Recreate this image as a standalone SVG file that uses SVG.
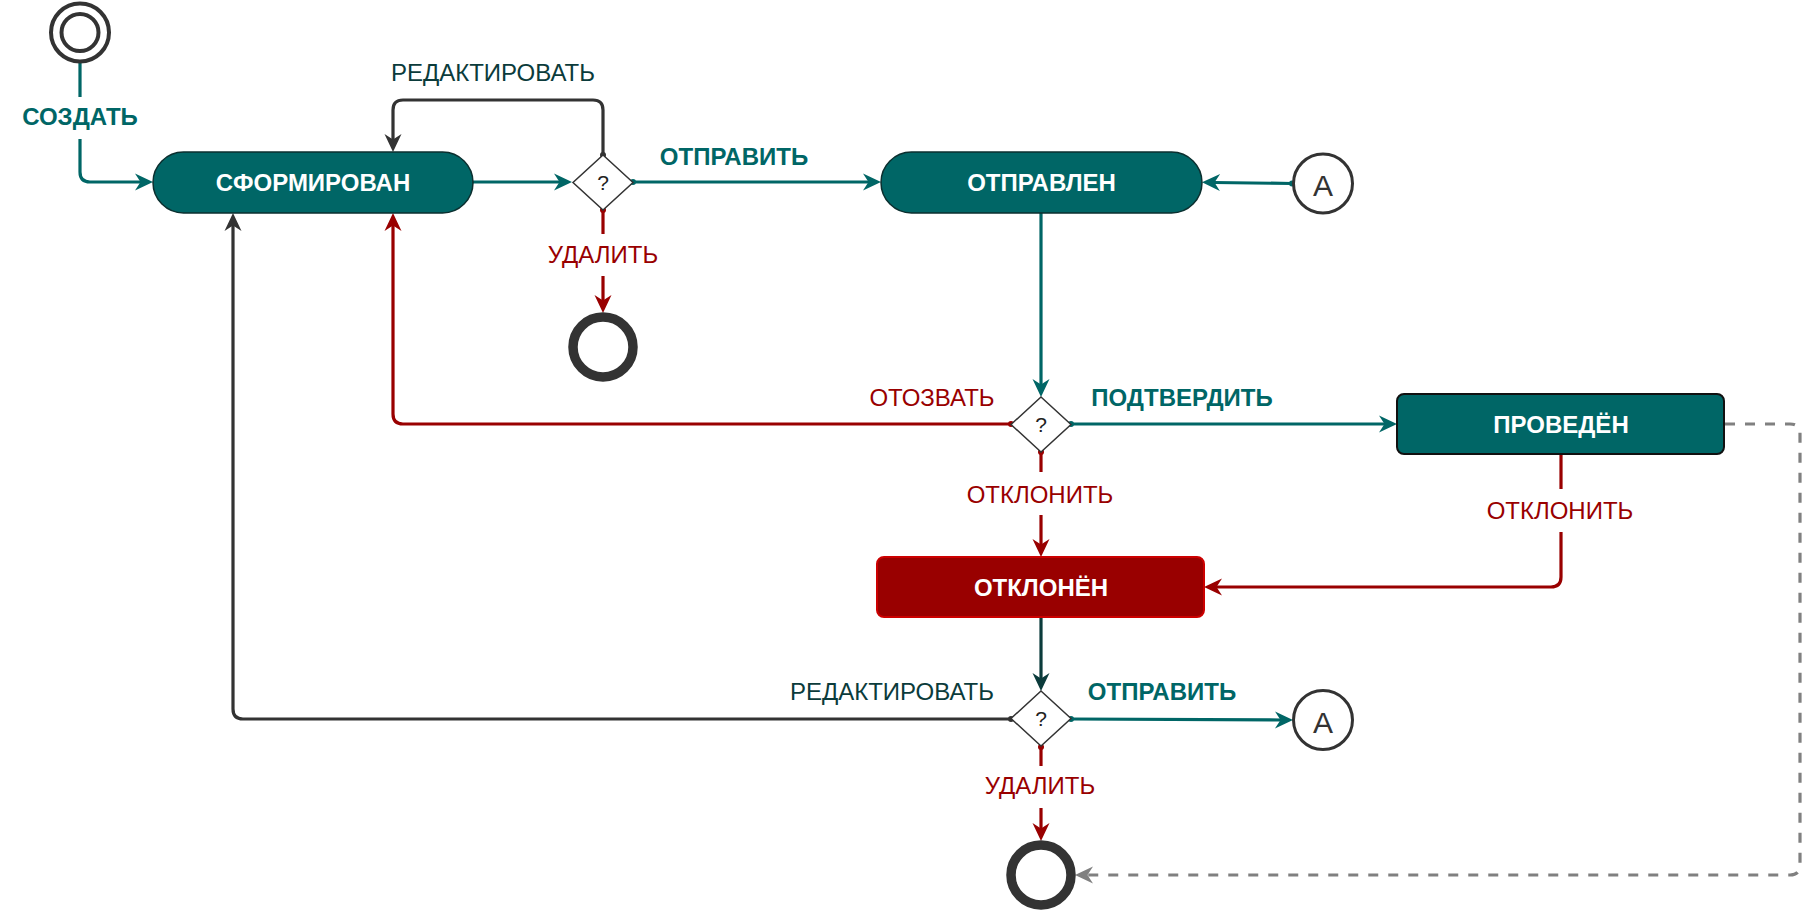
<svg xmlns="http://www.w3.org/2000/svg" width="1818" height="910" viewBox="0 0 1818 910">
<style>
text{font-family:"Liberation Sans",Arial,sans-serif;text-anchor:middle}
.node text{font-size:24px;font-weight:bold;fill:#ffffff}
.teal{fill:#006666;stroke:#0b2f2f;stroke-width:1.5}
.conn path{fill:none;stroke-width:3.2}
.c-teal{stroke:#006666}
.c-red{stroke:#990000}
.c-dark{stroke:#333333}
.c-dteal{stroke:#0b3b3b}
.c-gray{stroke:#808080;stroke-dasharray:10 10;stroke-width:3.5}
.lbl{font-size:24px}
.lb-teal{fill:#006666;font-weight:bold}
.lb-red{fill:#990000}
.lb-dark{fill:#0b3b3b}
.bg{fill:#ffffff}
.dia{fill:#ffffff;stroke:#333333;stroke-width:1.5}
.q{font-size:21px;fill:#222222}
.endc{fill:#ffffff;stroke:#333333;stroke-width:9.5}
.conc{fill:#ffffff;stroke:#333333;stroke-width:3}
</style>
<defs>
<marker id="a-teal" viewBox="-20 -10 22 20" refX="-12" refY="0" markerWidth="22" markerHeight="20" markerUnits="userSpaceOnUse" orient="auto" overflow="visible"><path d="M0,0 L-18,-8.5 L-12.5,0 L-18,8.5 Z" fill="#006666"/></marker>
<marker id="a-red" viewBox="-20 -10 22 20" refX="-12" refY="0" markerWidth="22" markerHeight="20" markerUnits="userSpaceOnUse" orient="auto" overflow="visible"><path d="M0,0 L-18,-8.5 L-12.5,0 L-18,8.5 Z" fill="#990000"/></marker>
<marker id="a-dark" viewBox="-20 -10 22 20" refX="-12" refY="0" markerWidth="22" markerHeight="20" markerUnits="userSpaceOnUse" orient="auto" overflow="visible"><path d="M0,0 L-18,-8.5 L-12.5,0 L-18,8.5 Z" fill="#333333"/></marker>
<marker id="a-dteal" viewBox="-20 -10 22 20" refX="-12" refY="0" markerWidth="22" markerHeight="20" markerUnits="userSpaceOnUse" orient="auto" overflow="visible"><path d="M0,0 L-18,-8.5 L-12.5,0 L-18,8.5 Z" fill="#0b3b3b"/></marker>
<marker id="a-gray" viewBox="-20 -10 22 20" refX="-12" refY="0" markerWidth="22" markerHeight="20" markerUnits="userSpaceOnUse" orient="auto" overflow="visible"><path d="M0,0 L-18,-8.5 L-12.5,0 L-18,8.5 Z" fill="#808080"/></marker>
<marker id="d-teal" viewBox="-4 -4 8 8" refX="0" refY="0" markerWidth="8" markerHeight="8" markerUnits="userSpaceOnUse" overflow="visible"><circle r="3" fill="#006666"/></marker>
<marker id="d-red" viewBox="-4 -4 8 8" refX="0" refY="0" markerWidth="8" markerHeight="8" markerUnits="userSpaceOnUse" overflow="visible"><circle r="3" fill="#990000"/></marker>
<marker id="d-dark" viewBox="-4 -4 8 8" refX="0" refY="0" markerWidth="8" markerHeight="8" markerUnits="userSpaceOnUse" overflow="visible"><circle r="3" fill="#333333"/></marker>
</defs>

<g id="connectors" class="conn">
<path class="c-teal" d="M80,63 V172 Q80,182 90,182 H141" marker-end="url(#a-teal)"/>
<path class="c-teal" d="M473,182 H560" marker-end="url(#a-teal)"/>
<path class="c-dark" d="M603,155 V110 Q603,100 593,100 H403 Q393,100 393,110 V140" marker-start="url(#d-dark)" marker-end="url(#a-dark)"/>
<path class="c-teal" d="M633,182 H869" marker-start="url(#d-teal)" marker-end="url(#a-teal)"/>
<path class="c-red" d="M603,210 V301" marker-start="url(#d-red)" marker-end="url(#a-red)"/>
<path class="c-teal" d="M1292,183.5 L1214,182.5" marker-start="url(#d-teal)" marker-end="url(#a-teal)"/>
<path class="c-teal" d="M1041,213 V385" marker-end="url(#a-teal)"/>
<path class="c-red" d="M1011,424 H403 Q393,424 393,414 V225" marker-start="url(#d-red)" marker-end="url(#a-red)"/>
<path class="c-teal" d="M1071,424 H1385" marker-start="url(#d-teal)" marker-end="url(#a-teal)"/>
<path class="c-red" d="M1041,452 V545" marker-start="url(#d-red)" marker-end="url(#a-red)"/>
<path class="c-red" d="M1561,454 V577 Q1561,587 1551,587 H1216" marker-end="url(#a-red)"/>
<path class="c-gray" d="M1725,424 H1790 Q1800,424 1800,434 V865 Q1800,875 1790,875 H1087" marker-end="url(#a-gray)"/>
<path class="c-dteal" d="M1041,617 V679" marker-end="url(#a-dteal)"/>
<path class="c-dark" d="M1011,719 H243 Q233,719 233,709 V225" marker-start="url(#d-dark)" marker-end="url(#a-dark)"/>
<path class="c-teal" d="M1071,719 L1281,720" marker-start="url(#d-teal)" marker-end="url(#a-teal)"/>
<path class="c-red" d="M1041,747 V829" marker-start="url(#d-red)" marker-end="url(#a-red)"/>

<rect class="bg" x="23" y="97" width="114" height="42"/>
<text class="lbl lb-teal" x="80" y="124.5">СОЗДАТЬ</text>
<text class="lbl lb-dark" x="493" y="80.5">РЕДАКТИРОВАТЬ</text>
<text class="lbl lb-teal" x="734" y="164.5">ОТПРАВИТЬ</text>
<rect class="bg" x="546" y="234" width="114" height="42"/>
<text class="lbl lb-red" x="603" y="262.5">УДАЛИТЬ</text>
<text class="lbl lb-red" x="932" y="405.5">ОТОЗВАТЬ</text>
<text class="lbl lb-teal" x="1182" y="405.5">ПОДТВЕРДИТЬ</text>
<rect class="bg" x="962" y="472" width="158" height="43"/>
<text class="lbl lb-red" x="1040" y="502.5">ОТКЛОНИТЬ</text>
<rect class="bg" x="1482" y="489" width="158" height="43"/>
<text class="lbl lb-red" x="1560" y="518.5">ОТКЛОНИТЬ</text>
<text class="lbl lb-dark" x="892" y="699.5">РЕДАКТИРОВАТЬ</text>
<text class="lbl lb-teal" x="1162" y="699.5">ОТПРАВИТЬ</text>
<rect class="bg" x="984" y="766" width="114" height="42"/>
<text class="lbl lb-red" x="1040" y="793.5">УДАЛИТЬ</text>
</g>

<g id="start">
<circle cx="80" cy="32.5" r="29" fill="#ffffff" stroke="#333333" stroke-width="4"/>
<circle cx="80" cy="32.5" r="18.5" fill="none" stroke="#333333" stroke-width="4"/>
</g>

<g id="sformirovan" class="node">
<rect class="teal" x="153" y="152" width="320" height="61" rx="30.5"/>
<text x="313" y="191">СФОРМИРОВАН</text>
</g>

<g id="decision1">
<polygon class="dia" points="603,155 633,182.5 603,210 573,182.5"/>
<text class="q" x="603" y="190">?</text>
</g>

<g id="end1">
<circle class="endc" cx="603" cy="347" r="30"/>
</g>

<g id="otpravlen" class="node">
<rect class="teal" x="881" y="152" width="321" height="61" rx="30.5"/>
<text x="1041.5" y="191">ОТПРАВЛЕН</text>
</g>

<g id="connectorA1">
<circle class="conc" cx="1323" cy="183.5" r="29.5"/>
<text x="1323" y="196" style="font-size:30px;fill:#333333">A</text>
</g>

<g id="decision2">
<polygon class="dia" points="1041,397 1071,424.5 1041,452 1011,424.5"/>
<text class="q" x="1041" y="432">?</text>
</g>

<g id="proveden" class="node">
<rect x="1397" y="394" width="327" height="60" rx="7" fill="#006666" stroke="#111111" stroke-width="2"/>
<text x="1561" y="432.5">ПРОВЕДЁН</text>
</g>

<g id="otklonen" class="node">
<rect x="877" y="557" width="327" height="60" rx="7" fill="#990000" stroke="#cc0000" stroke-width="2"/>
<text x="1041" y="595.5">ОТКЛОНЁН</text>
</g>

<g id="decision3">
<polygon class="dia" points="1041,691 1071,718.5 1041,746 1011,718.5"/>
<text class="q" x="1041" y="726">?</text>
</g>

<g id="connectorA2">
<circle class="conc" cx="1323" cy="720" r="29.5"/>
<text x="1323" y="732.5" style="font-size:30px;fill:#333333">A</text>
</g>

<g id="end2">
<circle class="endc" cx="1041" cy="875" r="30"/>
</g>
</svg>
